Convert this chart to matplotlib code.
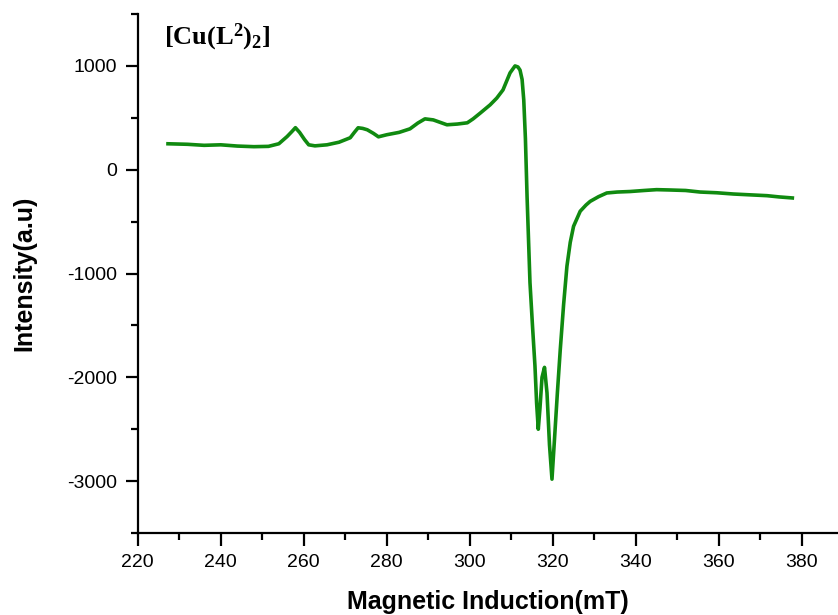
import matplotlib
matplotlib.use('Agg')
import matplotlib.pyplot as plt
from matplotlib.ticker import MultipleLocator

# EPR spectrum of [Cu(L2)2]
field_mT = [227.3, 232.0, 236.0, 240.0, 244.0, 248.0, 251.5, 254.0, 256.0, 257.2,
            258.0, 259.0, 260.2, 261.2, 262.7, 265.6, 268.5, 271.2, 272.2, 273.1,
            274.2, 275.3, 276.8, 278.0, 280.0, 283.0, 285.6, 287.5, 289.2, 291.2,
            294.5, 297.0, 299.4, 300.8, 302.5, 304.9, 306.5, 308.0, 309.7, 310.9,
            311.6, 312.1, 312.6, 313.0, 313.4, 313.8, 314.5, 315.1, 315.7, 316.1,
            316.5, 316.9, 317.4, 318.0, 318.6, 319.2, 319.8, 320.4, 321.1, 321.8,
            322.6, 323.4, 324.2, 325.0, 326.6, 328.0, 329.0, 331.0, 333.0, 335.5,
            338.6, 342.0, 345.0, 348.0, 352.0, 355.5, 359.5, 363.5, 367.5, 371.6,
            374.5, 377.7]
intensity = [250, 245, 235, 240, 228, 222, 225, 250, 320, 370,
             405, 360, 290, 240, 230, 240, 265, 308, 360, 404,
             398, 385, 350, 317, 337, 360, 394, 450, 490, 480,
             433, 440, 452, 490, 545, 625, 690, 769, 933, 1000,
             990, 960, 870, 673, 300, -260, -1087, -1500, -1890, -2250,
             -2500, -2300, -2000, -1904, -2150, -2650, -2981, -2600, -2150, -1731,
             -1300, -930, -700, -545, -400, -340, -305, -260, -224, -215,
             -210, -200, -192, -195, -200, -215, -222, -234, -242, -250,
             -262, -272]

x_ticks = [220, 240, 260, 280, 300, 320, 340, 360, 380]
y_ticks = [-3000, -2000, -1000, 0, 1000]

plt.rcParams['font.family'] = ['Liberation Sans', 'DejaVu Sans']
plt.rcParams['axes.unicode_minus'] = False
plt.rcParams['mathtext.fontset'] = 'custom'
plt.rcParams['mathtext.rm'] = 'Liberation Serif:bold'
plt.rcParams['mathtext.bf'] = 'Liberation Serif:bold'

fig = plt.figure(figsize=(8.38, 6.15), dpi=100)
ax = fig.add_axes([0.1643, 0.1333, 0.8357, 0.8439])

ax.plot(field_mT, intensity, color='#108a10', linewidth=2.6)

ax.set_xlim(220, 388.7)
ax.set_ylim(-3500, 1500)
ax.set_xticks(x_ticks)
ax.set_yticks(y_ticks)
ax.xaxis.set_minor_locator(MultipleLocator(10))
ax.yaxis.set_minor_locator(MultipleLocator(500))

for side in ['top', 'right']:
    ax.spines[side].set_visible(False)
for side in ['left', 'bottom']:
    ax.spines[side].set_linewidth(1.6)

ax.tick_params(which='major', direction='out', length=9, width=1.6, labelsize=14, pad=6)
ax.tick_params(which='minor', direction='out', length=5, width=1.6)

ax.set_xlabel('Magnetic Induction(mT)', fontsize=18, fontweight='bold', labelpad=14)
ax.set_ylabel('Intensity(a.u)', fontsize=18, fontweight='bold', labelpad=22)

ax.text(0.038, 0.955, r'$\mathbf{[Cu(L^{2})_{2}]}$', transform=ax.transAxes,
        fontsize=19, va='center', ha='left')

fig.savefig('out.png', dpi=100)
